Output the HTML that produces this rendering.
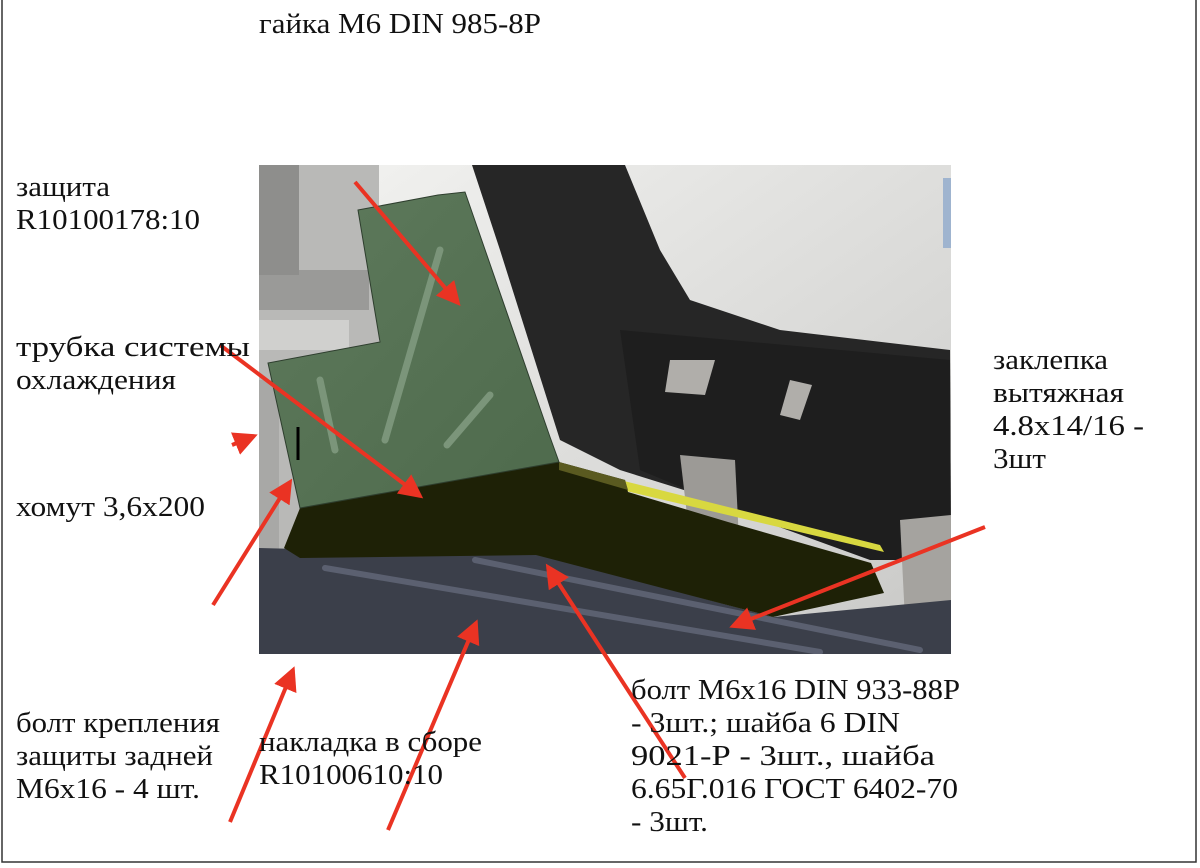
<!DOCTYPE html>
<html><head><meta charset="utf-8"><style>
html,body{margin:0;padding:0;background:#fff;}
svg{display:block;}
text{font-family:"Liberation Serif","Noto Serif CJK SC",serif;font-size:29px;fill:#111;}
</style></head><body>
<svg width="1200" height="868" viewBox="0 0 1200 868" xmlns="http://www.w3.org/2000/svg">
<defs>
<linearGradient id="bg" x1="0" y1="0" x2="1" y2="1">
<stop offset="0" stop-color="#f4f4f2"/><stop offset="1" stop-color="#c8c8c6"/></linearGradient>
<linearGradient id="gr" x1="0" y1="0" x2="1" y2="1">
<stop offset="0" stop-color="#5e7a5c"/><stop offset="1" stop-color="#4e6a4c"/></linearGradient>
<marker id="ah" markerWidth="6" markerHeight="6" refX="5" refY="3" orient="auto" markerUnits="strokeWidth">
<path d="M0,0 L6,3 L0,6 Z" fill="#ea3323"/></marker>
<clipPath id="cp"><rect x="259" y="165" width="692" height="489"/></clipPath>
</defs>
<rect x="2" y="-2" width="1194" height="864" fill="#fff" stroke="#333" stroke-width="1.5"/>
<g clip-path="url(#cp)">
<rect x="259" y="165" width="692" height="489" fill="url(#bg)"/>
<rect x="259" y="165" width="120" height="400" fill="#b9b9b7"/>
<rect x="259" y="270" width="110" height="40" fill="#9a9a98"/>
<rect x="259" y="320" width="90" height="30" fill="#d0d0ce"/>
<rect x="259" y="165" width="40" height="110" fill="#8e8e8c"/>
<rect x="259" y="380" width="20" height="180" fill="#a8a8a6"/>
<polygon points="472,165 625,165 660,250 690,300 780,330 950,350 951,560 880,560 780,520 620,470 560,440 500,250" fill="#262626"/>
<polygon points="620,330 950,360 951,560 870,560 760,520 640,470" fill="#1e1e1e"/>
<polygon points="670,360 715,360 705,395 665,392" fill="#b0aeaa"/>
<polygon points="790,380 812,385 800,420 780,415" fill="#b0aeaa"/>
<polygon points="680,455 735,460 740,560 690,540" fill="#9c9a96"/>
<polygon points="900,520 951,515 951,640 905,620" fill="#a5a39f"/>
<polygon points="620,480 880,545 884,552 622,490" fill="#d8d840"/>
<polygon points="259,548 540,555 773,617 951,600 951,654 259,654" fill="#3b3f4a"/>
<line x1="325" y1="568" x2="820" y2="652" stroke="#5b6070" stroke-width="6" stroke-linecap="round"/>
<line x1="475" y1="560" x2="920" y2="650" stroke="#5b6070" stroke-width="6" stroke-linecap="round"/>
<polygon points="300,508 559,462 625,480 628,492 728,522 871,563 884,593 773,617 536,555 300,558 284,548" fill="#1e2106"/>
<polygon points="559,462 625,480 628,490 559,470" fill="#5a5a20"/>
<polygon points="358,210 438,195 465,192 550,437 559,462 300,508 268,363 380,342" fill="url(#gr)" stroke="#2e3e2e" stroke-width="1"/>
<line x1="440" y1="250" x2="385" y2="440" stroke="#7b957a" stroke-width="7" stroke-linecap="round"/>
<line x1="320" y1="380" x2="335" y2="450" stroke="#7b957a" stroke-width="7" stroke-linecap="round"/>
<line x1="490" y1="395" x2="447" y2="445" stroke="#7b957a" stroke-width="7" stroke-linecap="round"/>
<line x1="298" y1="427" x2="298" y2="460" stroke="#000" stroke-width="3"/>
<rect x="943" y="178" width="8" height="70" fill="#9fb4cf"/>
</g>
<g stroke="#ea3323" stroke-width="4" fill="none" marker-end="url(#ah)">
<line x1="355" y1="182" x2="458" y2="303"/>
<line x1="220" y1="345" x2="420" y2="496"/>
<line x1="232" y1="445" x2="254" y2="436"/>
<line x1="213" y1="605" x2="290" y2="482"/>
<line x1="230" y1="822" x2="293" y2="670"/>
<line x1="388" y1="830" x2="476" y2="623"/>
<line x1="685" y1="778" x2="548" y2="567"/>
<line x1="985" y1="527" x2="733" y2="626"/>
</g>
<text x="259" y="33" textLength="282" lengthAdjust="spacingAndGlyphs">гайка М6 DIN 985-8Р</text>
<text x="16" y="196" textLength="94" lengthAdjust="spacingAndGlyphs">защита</text>
<text x="16" y="229" textLength="184" lengthAdjust="spacingAndGlyphs">R10100178:10</text>
<text x="16" y="356" textLength="234" lengthAdjust="spacingAndGlyphs">трубка системы</text>
<text x="16" y="389" textLength="160" lengthAdjust="spacingAndGlyphs">охлаждения</text>
<text x="16" y="516" textLength="189" lengthAdjust="spacingAndGlyphs">хомут 3,6х200</text>
<text x="993" y="369" textLength="115" lengthAdjust="spacingAndGlyphs">заклепка</text>
<text x="993" y="402" textLength="131" lengthAdjust="spacingAndGlyphs">вытяжная</text>
<text x="993" y="435" textLength="151" lengthAdjust="spacingAndGlyphs">4.8х14/16 -</text>
<text x="993" y="468" textLength="53" lengthAdjust="spacingAndGlyphs">3шт</text>
<text x="16" y="732" textLength="204" lengthAdjust="spacingAndGlyphs">болт крепления</text>
<text x="16" y="765" textLength="197" lengthAdjust="spacingAndGlyphs">защиты задней</text>
<text x="16" y="798" textLength="184" lengthAdjust="spacingAndGlyphs">М6х16 - 4 шт.</text>
<text x="259" y="751" textLength="223" lengthAdjust="spacingAndGlyphs">накладка в сборе</text>
<text x="259" y="784" textLength="184" lengthAdjust="spacingAndGlyphs">R10100610:10</text>
<text x="631" y="699" textLength="329" lengthAdjust="spacingAndGlyphs">болт М6х16 DIN 933-88Р</text>
<text x="631" y="732" textLength="269" lengthAdjust="spacingAndGlyphs">- 3шт.; шайба 6 DIN</text>
<text x="631" y="765" textLength="304" lengthAdjust="spacingAndGlyphs">9021-Р - 3шт., шайба</text>
<text x="631" y="798" textLength="327" lengthAdjust="spacingAndGlyphs">6.65Г.016 ГОСТ 6402-70</text>
<text x="631" y="831" textLength="77" lengthAdjust="spacingAndGlyphs">- 3шт.</text>
</svg>
</body></html>
